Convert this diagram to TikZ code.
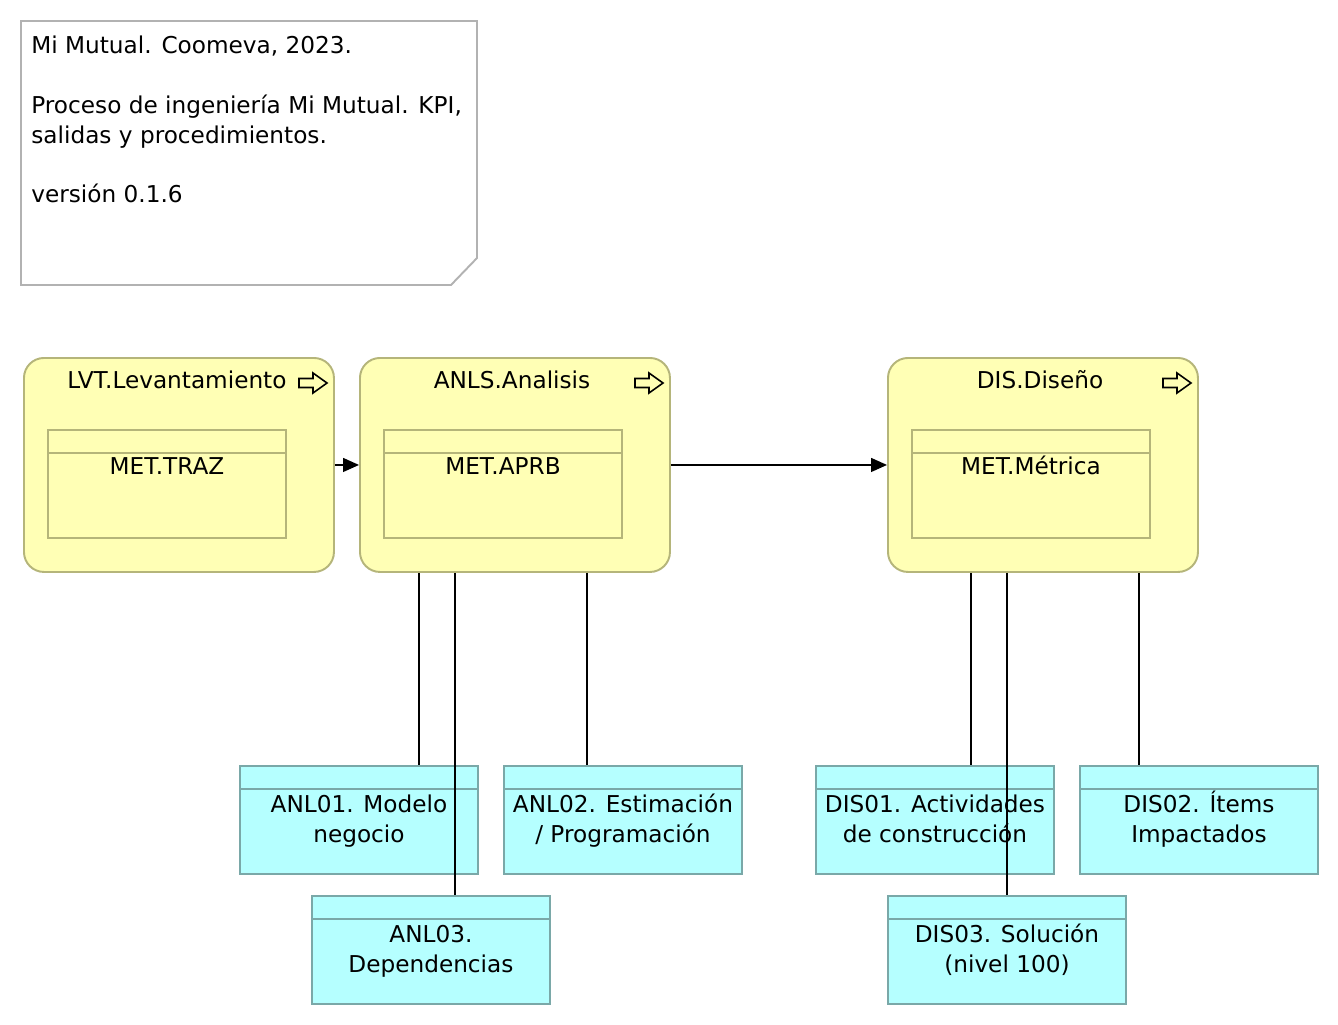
\documentclass[tikz,border=0pt]{standalone}
\usepackage{fontspec}
\setmainfont{DejaVu Sans}
\usetikzlibrary{arrows.meta,calc}
\definecolor{procfill}{RGB}{255,255,181}
\definecolor{procline}{RGB}{181,181,122}
\definecolor{outfill}{RGB}{181,255,255}
\definecolor{outline}{RGB}{122,168,168}
\definecolor{noteline}{RGB}{178,178,178}
% fixed line extents so labels sit alike whatever letters they hold
\newcommand\topstrut{\rule{0pt}{12pt}}
\newcommand\botstrut{\rule[-3.5pt]{0pt}{3.5pt}}
\tikzset{
  proc/.style={draw=procline, fill=procfill, line width=1.1pt, rounded corners=0.4cm,
    minimum width=310*0.02cm, minimum height=214*0.02cm, inner sep=0pt, anchor=north west},
  inner/.style={draw=procline, fill=procfill, line width=1.1pt,
    minimum width=238*0.02cm, minimum height=108*0.02cm, inner sep=0pt, anchor=north west},
  outbox/.style={draw=outline, fill=outfill, line width=1.1pt,
    minimum width=238*0.02cm, minimum height=108*0.02cm, inner sep=0pt, anchor=north west},
  lbl/.style={inner sep=0pt, align=center},
  link/.style={draw=black, line width=0.8pt},
  flow/.style={link, -{Triangle[length=0.32cm, width=0.28cm]}},
  flowicon/.pic={\draw[black, line width=0.9pt, line join=miter]
     (-14,-4.5) -- (0,-4.5) -- (0,-10) -- (14,0) -- (0,10) -- (0,4.5) -- (-14,4.5) -- cycle;}
}
\begin{document}
\begin{tikzpicture}[x=0.02cm, y=-0.02cm, font=\fontsize{13.2}{17}\selectfont]
\useasboundingbox (0,0) rectangle (1338,1024);

% note
\draw[noteline, line width=1.1pt] (21,21) -- (477,21) -- (477,258) -- (451,285) -- (21,285) -- cycle;
\node[inner sep=0pt, anchor=north west, align=left] (note) at (31,32)
  {\topstrut Mi Mutual. Coomeva, 2023.\\[17pt]Proceso de ingeniería Mi Mutual. KPI,\\salidas y procedimientos.\\[17pt]versión 0.1.6};

% processes
\node[proc] (lvt) at (23,357) {};
\node[proc] (anls) at (359,357) {};
\node[proc] (dis) at (887,357) {};
\node[lbl] (lvtT) at (177,381) {\topstrut LVT.Levantamiento\botstrut};
\node[lbl] (anlsT) at (512,381) {\topstrut ANLS.Analisis\botstrut};
\node[lbl] (disT) at (1040,381) {\topstrut DIS.Diseño\botstrut};
\pic at (313,383) {flowicon};
\pic at (649,383) {flowicon};
\pic at (1177,383) {flowicon};

% methods inside processes
\foreach \n/\x/\t in {lvtM/47/MET.TRAZ, anlsM/383/MET.APRB, disM/911/MET.Métrica}{
  \node[inner] (\n) at (\x,429) {};
  \draw[procline, line width=1.1pt] ($(\n.north west)+(0,24)$) -- ($(\n.north east)+(0,24)$);
  \node[lbl] (\n T) at ($(\n.north)+(0,38)$) {\topstrut\t\botstrut};
}

% outputs
\foreach \n/\x/\y/\a/\b in {anl01/239/765/{ANL01. Modelo}/{negocio},
                         anl02/503/765/{ANL02. Estimación}/{/ Programación},
                         anl03/311/895/{ANL03.}/{Dependencias},
                         dis01/815/765/{DIS01. Actividades}/{de construcción},
                         dis02/1079/765/{DIS02. Ítems}/{Impactados},
                         dis03/887/895/{DIS03. Solución}/{(nivel 100)}}{
  \node[outbox] (\n) at (\x,\y) {};
  \draw[outline, line width=1.1pt] ($(\n.north west)+(0,24)$) -- ($(\n.north east)+(0,24)$);
  \node[lbl] (\n T) at ($(\n.north)+(0,55)$) {\topstrut\a\\\b\botstrut};
}

% flow between processes
\draw[flow] (lvt.east) -- (anls.west);
\draw[flow] (anls.east) -- (dis.west);

% output links
\coordinate (a1) at ($(anls.south west)+(60,0)$);
\coordinate (a3) at ($(anls.south west)+(96,0)$);
\coordinate (a2) at ($(anls.south west)+(228,0)$);
\coordinate (d1) at ($(dis.south west)+(84,0)$);
\coordinate (d3) at ($(dis.south west)+(120,0)$);
\coordinate (d2) at ($(dis.south west)+(252,0)$);
\draw[link] (a1) -- (a1 |- anl01.north);
\draw[link] (a3) -- (a3 |- anl03.north);
\draw[link] (a2) -- (a2 |- anl02.north);
\draw[link] (d1) -- (d1 |- dis01.north);
\draw[link] (d3) -- (d3 |- dis03.north);
\draw[link] (d2) -- (d2 |- dis02.north);
\end{tikzpicture}
\end{document}
